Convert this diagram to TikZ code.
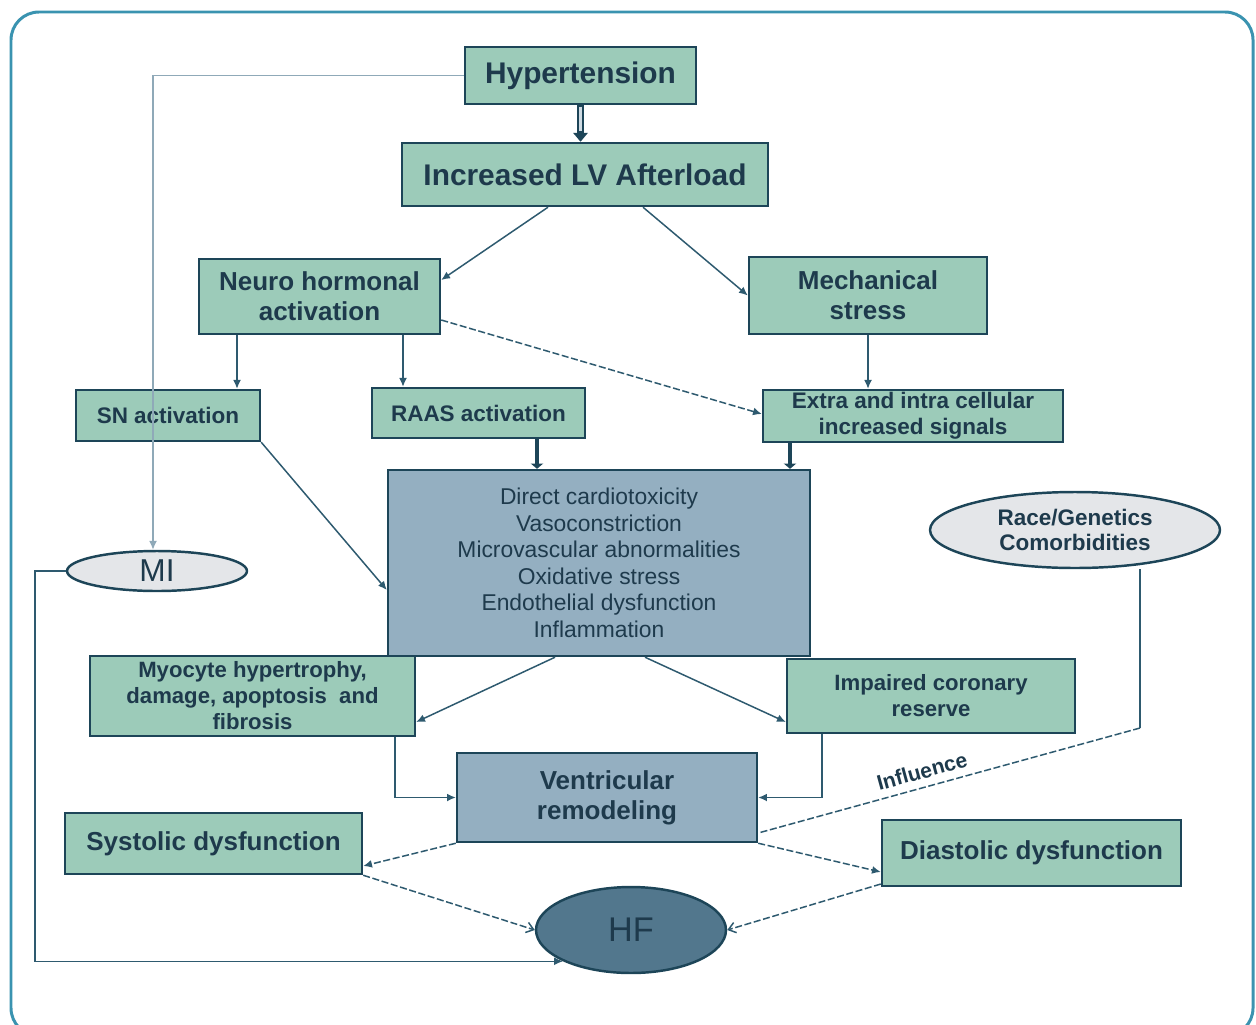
\documentclass[tikz,border=0pt]{standalone}
\usepackage{fontspec}
\setmainfont{Liberation Sans}
\usetikzlibrary{arrows.meta,shapes.geometric}
\definecolor{boxgreen}{HTML}{9CCBB9}
\definecolor{boxblue}{HTML}{94AFC1}
\definecolor{ellgrey}{HTML}{E4E6E9}
\definecolor{hfblue}{HTML}{52778D}
\definecolor{edgec}{HTML}{1D4558}
\definecolor{txt}{HTML}{1E3A4C}
\definecolor{conn}{HTML}{2E5A6F}
\definecolor{lightconn}{HTML}{8FA9B8}
\definecolor{framec}{HTML}{3A93B0}
\begin{document}
\begin{tikzpicture}[x=0.02cm,y=-0.02cm,
  gbox/.style={draw=edgec, line width=1.4pt, fill=boxgreen, text=txt, inner sep=0pt, align=center},
  bbox/.style={draw=edgec, line width=1.4pt, fill=boxblue, text=txt, inner sep=0pt, align=center},
  gell/.style={ellipse, draw=edgec, line width=1.4pt, fill=ellgrey, text=txt, inner sep=0pt, align=center},
  fA/.style={font=\fontsize{17}{19.5}\selectfont\bfseries},
  fB/.style={font=\fontsize{14.8}{17}\selectfont\bfseries},
  fC/.style={font=\fontsize{12.8}{14.8}\selectfont\bfseries},
  conline/.style={draw=conn, line width=0.85pt},
  arr/.style={-{Latex[length=5pt,width=4.5pt]}},
  barb/.style={-{Straight Barb[length=4pt,width=6pt]}},
  dsh/.style={dash pattern=on 4pt off 1.5pt},
  thickarr/.style={draw=edgec, line width=2.6pt, -{Triangle[length=3pt,width=7pt]}}
]
\useasboundingbox (0,0) rectangle (1256,1024);
\begin{scope}
\clip (0,0) rectangle (1256,1024);
\draw[framec, line width=1.7pt, rounded corners=0.56cm] (11,12) rectangle (1253,1036);
\end{scope}

% nodes
\node[gbox, fA, minimum width=4.62cm, minimum height=1.14cm] (hyp) at (580.5,75.5) {Hypertension};
\node[gbox, fA, minimum width=7.32cm, minimum height=1.26cm] (lv) at (585,174.5) {Increased LV Afterload};
\node[gbox, fB, minimum width=4.82cm, minimum height=1.5cm] (neuro) at (319.5,296.5) {Neuro hormonal\\activation};
\node[gbox, fB, minimum width=4.76cm, minimum height=1.54cm] (mech) at (868,295.5) {Mechanical\\stress};
\node[gbox, fC, minimum width=3.68cm, minimum height=1.02cm] (sn) at (168,415.5) {SN activation};
\node[gbox, fC, minimum width=4.26cm, minimum height=1.0cm] (raas) at (478.5,413) {RAAS activation};
\node[gbox, fC, font=\fontsize{12.8}{14.6}\selectfont\bfseries, minimum width=6.0cm, minimum height=1.04cm] (extra) at (913,416) {Extra and intra cellular\\increased signals};
\node[bbox, font=\fontsize{13}{15.1}\selectfont, minimum width=8.44cm, minimum height=3.72cm] (big) at (599,563) {Direct cardiotoxicity\\Vasoconstriction\\Microvascular abnormalities\\Oxidative stress\\Endothelial dysfunction\\Inflammation};
\node[gell, fC, font=\fontsize{12.8}{14.6}\selectfont\bfseries, minimum width=5.8cm, minimum height=1.52cm] (race) at (1075,530) {Race/Genetics\\Comorbidities};
\node[gell, font=\fontsize{18}{20}\selectfont, minimum width=3.6cm, minimum height=0.8cm] (mi) at (157,571) {MI};
\node[gbox, font=\fontsize{12.6}{14.8}\selectfont\bfseries, minimum width=6.5cm, minimum height=1.6cm] (myo) at (252.5,696) {Myocyte hypertrophy,\\damage, apoptosis\ \ and\\fibrosis};
\node[gbox, font=\fontsize{12.6}{14.8}\selectfont\bfseries, minimum width=5.76cm, minimum height=1.48cm] (imp) at (931,696) {Impaired coronary\\reserve};
\node[bbox, fB, minimum width=6.0cm, minimum height=1.78cm] (vent) at (607,797.5) {Ventricular\\remodeling};
\node[gbox, fB, minimum width=5.94cm, minimum height=1.22cm] (sys) at (213.5,843.5) {Systolic dysfunction};
\node[gbox, fB, minimum width=5.98cm, minimum height=1.32cm] (dia) at (1031.5,853) {Diastolic dysfunction};
\node[ellipse, draw=edgec, line width=1.4pt, fill=hfblue, text=txt, inner sep=0pt, font=\fontsize{19.5}{22}\selectfont, minimum width=3.8cm, minimum height=1.72cm] (hf) at (631,930) {HF};

% connectors
\draw[draw=lightconn, line width=0.85pt, arr] (hyp.west) -| (153,0 |- mi.north);
\draw[draw=edgec, line width=3.6pt, -{Triangle[length=5pt,width=8pt]}] (hyp.south) -- (hyp.south |- lv.north);
\draw[draw=white!55!boxblue, line width=1.2pt, shorten >=6pt, shorten <=0.8pt] (hyp.south) -- (hyp.south |- lv.north);
\draw[conline, arr] (548,0 |- lv.south) -- (neuro.east |- 0,280);
\draw[conline, arr] (643,0 |- lv.south) -- (mech.west);
\draw[conline, arr] (237,0 |- neuro.south) -- (237,0 |- sn.north);
\draw[conline, arr] (403,0 |- neuro.south) -- (403,0 |- raas.north);
\draw[conline, dsh, arr] (neuro.east |- 0,320) -- (extra.west |- 0,414);
\draw[conline, arr] (mech.south) -- (mech.south |- extra.north);
\draw[thickarr] (537,0 |- raas.south) -- (537,0 |- big.north);
\draw[thickarr] (790,0 |- extra.south) -- (790,0 |- big.north);
\draw[conline, arr] (sn.south east) -- (big.west |- 0,590);
\draw[conline, arr] (555,0 |- big.south) -- (myo.east |- 0,722);
\draw[conline, arr] (645,0 |- big.south) -- (imp.west |- 0,722);
\draw[conline, arr] (395,0 |- myo.south) |- (vent.west);
\draw[conline, arr] (822,0 |- imp.south) |- (vent.east);
\draw[conline, dsh, arr] (vent.south west) -- (sys.east |- 0,866);
\draw[conline, dsh, arr] (vent.south east) -- (dia.west |- 0,872);
\draw[conline] (1140,0 |- race.south) -- (1140,728) coordinate (rc);
\draw[conline, dsh] (rc) -- node[pos=0.56, above=1pt, sloped, text=txt, font=\fontsize{12}{14}\selectfont\bfseries] {Influence} (vent.east |- 0,833);
\draw[conline, dsh, barb] (sys.south east) -- (hf.west);
\draw[conline, dsh, barb] (dia.west |- 0,884) -- (hf.east);
\draw[conline, arr] (mi.west) -- (35,0 |- mi.west) |- (hf.south west);
\end{tikzpicture}
\end{document}
